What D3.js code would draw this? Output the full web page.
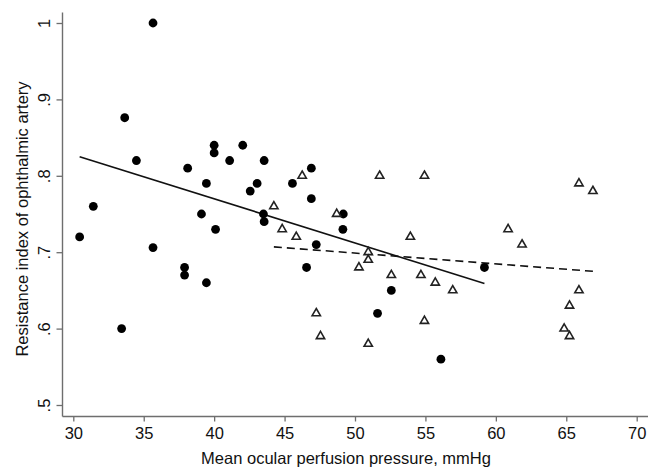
<!DOCTYPE html>
<html>
<head>
<meta charset="utf-8">
<script src="https://cdn.jsdelivr.net/npm/d3@7"></script>
<style>
  html, body { margin: 0; padding: 0; background: #fff; }
  svg { display: block; }
  text { font-family: "Liberation Sans", Arial, Helvetica, sans-serif; fill: #111; }
</style>
</head>
<body>
<svg id="chart" width="648" height="468"></svg>
<script>
// Group 1 (filled circles)
const circleX = [30.45, 31.42, 33.43, 33.65, 34.48, 35.66, 35.66, 37.9, 37.9, 38.12,
                 39.1, 39.45, 39.45, 40.0, 40.0, 40.1, 41.1, 42.03, 42.56, 43.05,
                 43.55, 43.5, 43.55, 45.56, 46.9, 46.9, 47.25, 46.56, 49.17, 49.14,
                 51.6, 52.58, 56.1, 59.19];
const circleY = [0.72, 0.76, 0.60, 0.876, 0.82, 1.0, 0.706, 0.68, 0.67, 0.81,
                 0.75, 0.79, 0.66, 0.84, 0.83, 0.73, 0.82, 0.84, 0.78, 0.79,
                 0.82, 0.75, 0.74, 0.79, 0.81, 0.77, 0.71, 0.68, 0.75, 0.73,
                 0.62, 0.65, 0.56, 0.68];
// Group 2 (hollow triangles)
const triX = [44.24, 44.83, 45.83, 46.25, 47.25, 47.55, 48.7, 50.28, 50.94, 50.94,
              50.94, 51.75, 52.58, 53.93, 54.68, 54.93, 54.93, 55.7, 56.94, 60.87,
              61.86, 64.85, 65.23, 65.23, 65.9, 65.9, 66.89];
const triY = [0.76, 0.73, 0.72, 0.80, 0.62, 0.59, 0.75, 0.68, 0.70, 0.69,
              0.58, 0.80, 0.67, 0.72, 0.67, 0.80, 0.61, 0.66, 0.65, 0.73,
              0.71, 0.60, 0.63, 0.59, 0.79, 0.65, 0.78];
// Linear fit lines (endpoints)
const solidFitX = [30.45, 59.19];
const solidFitY = [0.825, 0.659];
const dashedFitX = [44.24, 66.89];
const dashedFitY = [0.707, 0.675];
// Ticks
const xTicks = [30, 35, 40, 45, 50, 55, 60, 65, 70];
const yTicks = [0.5, 0.6, 0.7, 0.8, 0.9, 1.0];
const yTickLabels = [".5", ".6", ".7", ".8", ".9", "1"];
const xTitle = "Mean ocular perfusion pressure, mmHg";
const yTitle = "Resistance index of ophthalmic artery";

const svg = d3.select("#chart");
const axisX0 = 62.5, axisY0 = 416.5, axisTop = 12.5, axisRight = 648;
const x = d3.scaleLinear().domain([30, 70]).range([73.3, 636.7]);
const y = d3.scaleLinear().domain([0.5, 1.0]).range([405, 23]);
const axisColor = "#6e6e6e";

// X axis
const xAxis = d3.axisBottom(x).tickValues(xTicks).tickSize(5).tickFormat(d3.format("d"));
const gx = svg.append("g").attr("transform", `translate(0,${axisY0})`).call(xAxis);
gx.select(".domain").remove();
gx.selectAll(".tick line").attr("stroke", axisColor).attr("stroke-width", 1.3);
gx.selectAll(".tick text").attr("y", 22.5).attr("dy", null)
  .style("font-size", "16.5px").style("fill", "#111")
  .style("font-family", '"Liberation Sans", Arial, sans-serif');
svg.append("line").attr("x1", axisX0).attr("x2", axisRight)
  .attr("y1", axisY0).attr("y2", axisY0)
  .attr("stroke", axisColor).attr("stroke-width", 1.4);

// Y axis
const yAxis = d3.axisLeft(y).tickValues(yTicks).tickSize(6)
  .tickFormat((d, i) => yTickLabels[i]);
const gy = svg.append("g").attr("transform", `translate(${axisX0},0)`).call(yAxis);
gy.select(".domain").remove();
gy.selectAll(".tick line").attr("stroke", axisColor).attr("stroke-width", 1.3);
gy.selectAll(".tick text")
  .attr("x", null).attr("dy", null)
  .attr("text-anchor", "middle")
  .attr("transform", "translate(-13,0) rotate(-90)")
  .style("font-size", "16.5px").style("fill", "#111")
  .style("font-family", '"Liberation Sans", Arial, sans-serif');
svg.append("line").attr("x1", axisX0).attr("x2", axisX0)
  .attr("y1", axisTop).attr("y2", axisY0)
  .attr("stroke", axisColor).attr("stroke-width", 1.4);

// Titles
svg.append("text").attr("x", 346).attr("y", 464)
  .attr("text-anchor", "middle").style("font-size", "16.5px").text(xTitle);
svg.append("text").attr("transform", "translate(27.5,219) rotate(-90)")
  .attr("text-anchor", "middle").style("font-size", "16.5px").text(yTitle);

// Fit lines
const line = d3.line().x(d => x(d[0])).y(d => y(d[1]));
svg.append("path").datum(d3.zip(solidFitX, solidFitY)).attr("d", line)
  .attr("fill", "none").attr("stroke", "#111").attr("stroke-width", 1.6);
svg.append("path").datum(d3.zip(dashedFitX, dashedFitY)).attr("d", line)
  .attr("fill", "none").attr("stroke", "#111").attr("stroke-width", 1.6)
  .attr("stroke-dasharray", "8,5");

// Circles
svg.append("g").selectAll("circle").data(d3.zip(circleX, circleY)).join("circle")
  .attr("cx", d => x(d[0])).attr("cy", d => y(d[1])).attr("r", 4.4)
  .attr("fill", "#000");

// Triangles
const tri = d3.symbol().type(d3.symbolTriangle).size(30);
svg.append("g").selectAll("path").data(d3.zip(triX, triY)).join("path")
  .attr("d", tri)
  .attr("transform", d => `translate(${x(d[0])},${y(d[1])})`)
  .attr("fill", "#fff").attr("stroke", "#222").attr("stroke-width", 1.6);
</script>
</body>
</html>
